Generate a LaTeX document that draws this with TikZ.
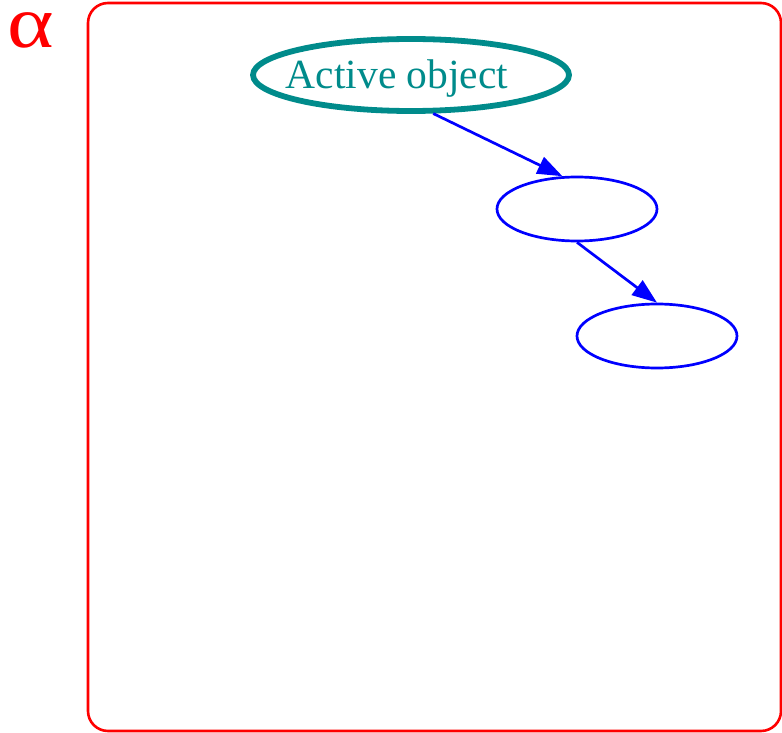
\documentclass[tikz,border=0pt]{standalone}
\usepackage{fontspec}
\setmainfont{Liberation Serif}
\usetikzlibrary{arrows.meta,shapes.geometric}
\definecolor{ObjTeal}{HTML}{008B8B}
\definecolor{ObjBlue}{HTML}{0000FF}
\definecolor{ObjRed}{HTML}{FF0000}

\begin{document}
\begin{tikzpicture}[x=1pt,y=-1pt, o/.style={draw,ellipse,inner sep=0pt,minimum width=#1,minimum height=64pt}, o/.default=160pt, act/.style={o=316pt,minimum height=72pt,draw=ObjTeal,line width=5.8pt}, sub/.style={o,draw=ObjBlue,line width=2.7pt}, a/.style={-{Triangle[length=25pt,width=18pt]},ObjBlue,line width=2.7pt}]
\useasboundingbox (0,0) rectangle (782,733);
% cluster frame
\draw[ObjRed,line width=2.6pt,rounded corners=20pt] (88,3) rectangle (781,731);
\node[ObjRed,font=\fontsize{74}{74}\selectfont,inner sep=0pt] (alpha) at (31,30) {\scalebox{1.2}[1]{α}};
\node[act,label={[ObjTeal,font=\fontsize{41.5}{48}\selectfont,xshift=-14pt,yshift=-3.5pt]center:Active object}] (act) at (411,75) {};
\node[sub] (s1) at (577,209) {};
\node[sub] (s2) at (657,336) {};
\draw[a] (act.-60) -- (s1.114);
\draw[a] (s1.south) -- (s2.north);
\end{tikzpicture}
\end{document}
